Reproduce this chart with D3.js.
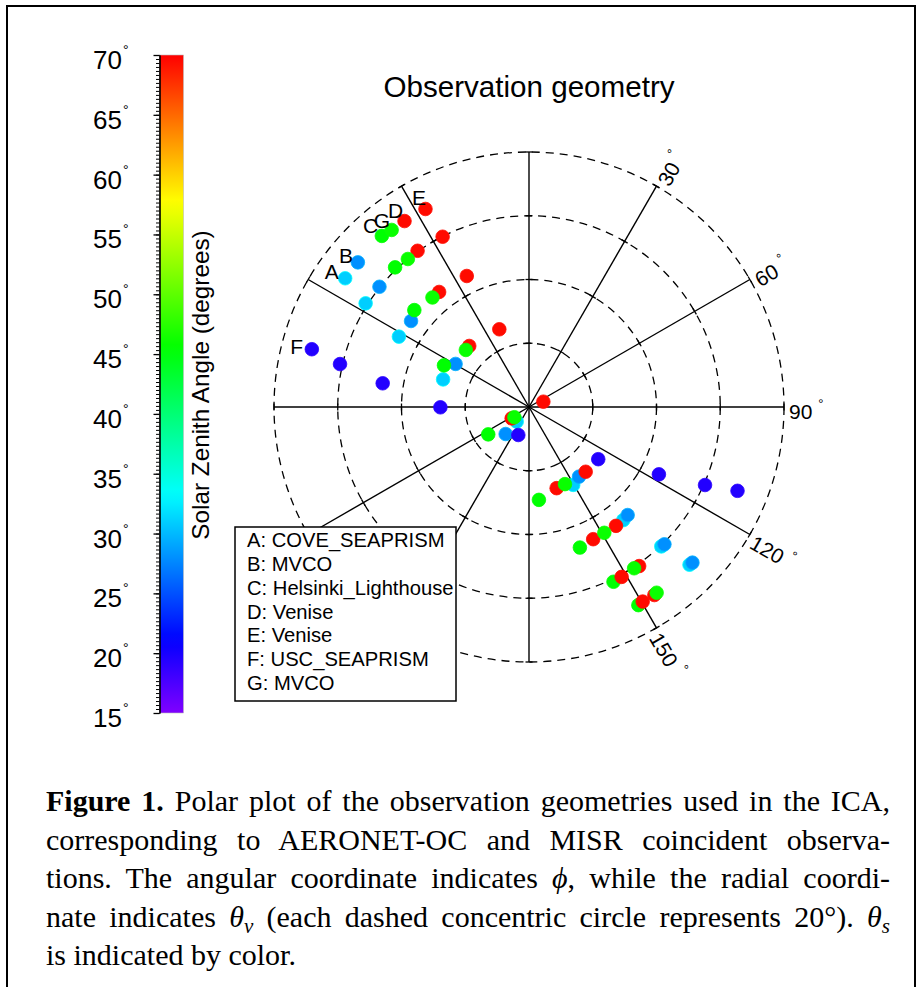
<!DOCTYPE html>
<html>
<head>
<meta charset="utf-8">
<script src="https://cdnjs.cloudflare.com/ajax/libs/d3/7.8.5/d3.min.js"></script>
<style>
  body { margin: 0; background: #fff; }
  svg text { font-family: "Liberation Sans", Arial, Helvetica, sans-serif; fill: #000; }
  .caption text { font-family: "Liberation Serif", "Times New Roman", serif; }
</style>
</head>
<body>
<div id="figure"></div>
<script>
// values, one entry per observation
// site order is also the drawing order (later sites sit on top)
var site = ["A","A","A","A","A","A","A","A","A",
            "B","B","B","B","B","B","B","B","B",
            "C","C","C","C","C","C","C","C","C",
            "D","D","D","D","D","D","D","D","D",
            "E","E","E","E","E","E","E","E","E",
            "F","F","F","F","F","F","F","F","F",
            "G","G","G","G","G","G","G","G","G"];

// view zenith angle theta_v (degrees)
var viewZenith = [70.4, 60.7, 46.4, 28.3, 6.0, 28.1, 46.2, 60.3, 70.6,
                  70.3, 60.2, 45.8, 26.7, 11.2, 26.9, 45.9, 60.5, 70.8,
                  70.8, 60.7, 47.1, 29.7, 15.4, 29.3, 46.9, 60.9, 71.0,
                  70.2, 60.2, 45.8, 26.8, 4.8, 27.0, 46.2, 60.7, 70.9,
                  70.1, 59.9, 45.5, 26.1, 6.5, 26.9, 46.1, 60.7, 70.7,
                  70.5, 60.8, 46.5, 27.8, 9.4, 27.2, 45.9, 60.4, 70.5,
                  70.3, 60.0, 45.8, 26.7, 5.6, 26.7, 46.0, 60.4, 70.7];

// azimuth phi (degrees, clockwise from the top)
var azimuth = [305.0, 302.4, 298.4, 287.8, 220.0, 150.4, 140.2, 136.5, 134.5,
               310.2, 308.8, 306.1, 300.4, 220.8, 144.3, 137.6, 135.4, 133.6,
               319.3, 316.2, 310.2, 296.1, 236.1, 173.9, 160.1, 154.2, 151.1,
               326.2, 324.5, 322.0, 315.6, 69.7, 138.8, 143.8, 145.3, 146.3,
               332.4, 333.1, 334.6, 339.1, 236.8, 161.2, 154.1, 151.4, 149.7,
               284.9, 282.8, 279.2, 269.8, 200.9, 127.0, 117.4, 113.9, 111.9,
               322.2, 320.7, 318.6, 312.1, 235.0, 155.0, 149.1, 146.9, 145.5];

// solar zenith angle theta_s (degrees), shown by colour
var solarZenith = [31, 31, 31, 31, 31, 31, 31, 31, 31,
                   28, 28, 28, 28, 28, 28, 28, 28, 28,
                   45.5, 45.5, 45.5, 45.5, 45.5, 45.5, 45.5, 45.5, 45.5,
                   69.5, 69.5, 69.5, 69.5, 69.5, 69.5, 69.5, 69.5, 69.5,
                   69.5, 69.5, 69.5, 69.5, 69.5, 69.5, 69.5, 69.5, 69.5,
                   19.5, 19.5, 19.5, 19.5, 19.5, 19.5, 19.5, 19.5, 19.5,
                   46, 46, 46, 46, 46, 46, 46, 46, 46];

// site letters written next to the outermost points
var siteLetters = ["A", "B", "C", "D", "E", "F", "G"];
var letterZenith = [75.1, 74.6, 75.7, 74.5, 74.2, 75.3, 74.6];
var letterAzimuth = [304.5, 309.7, 318.95, 325.8, 332.3, 284.5, 321.8];
var siteNames = ["COVE_SEAPRISM", "MVCO", "Helsinki_Lighthouse", "Venise", "Venise", "USC_SEAPRISM", "MVCO"];

var rings = [20, 40, 60, 80];
var spokes = [0, 30, 60, 90, 120, 150, 180, 210, 240, 270, 300, 330];
var spokeLabels = [30, 60, 90, 120, 150];
var colorTicks = [15, 20, 25, 30, 35, 40, 45, 50, 55, 60, 65, 70];

var captionLines = [
  [{t: "Figure 1.", bold: true}, {t: " Polar plot of the observation geometries used in the ICA,"}],
  [{t: "corresponding to AERONET-OC and MISR coincident observa-"}],
  [{t: "tions. The angular coordinate indicates "}, {t: "\u03d5", it: true}, {t: ", while the radial coordi-"}],
  [{t: "nate indicates "}, {t: "\u03b8", it: true}, {t: "v", it: true, sub: true},
   {t: " (each dashed concentric circle represents 20\u00b0). "}, {t: "\u03b8", it: true}, {t: "s", it: true, sub: true}],
  [{t: "is indicated by color."}]
];

window.onload = function(){
  drawFigure();
};

function drawFigure(){
  var width = 923,
      height = 987,
      center = {x: 529, y: 407},
      outerRadius = 255;

  var svg = d3.select("#figure").append("svg")
      .attr("width", width)
      .attr("height", height);

  // frame round the whole figure (open at the bottom edge)
  svg.append("rect")
      .attr("x", 7)
      .attr("y", 6)
      .attr("width", 908)
      .attr("height", 1100)
      .attr("fill", "none")
      .attr("stroke", "#000")
      .attr("stroke-width", 2);

  var color = d3.scaleLinear()
      .domain([15, 70])
      .range([270, 0]);

  function szaColor(v){
    return d3.hsl(color(v), 1, 0.5) + "";
  }

  // ---- colour bar ----
  var cb = {x: 159.5, width: 24, top: 55, bottom: 713};

  var cbScale = d3.scaleLinear()
      .domain([15, 70])
      .range([cb.bottom, cb.top]);

  var grad = svg.append("defs").append("linearGradient")
      .attr("id", "szaGradient")
      .attr("x1", 0).attr("y1", 1)
      .attr("x2", 0).attr("y2", 0);

  grad.selectAll("stop")
      .data(d3.range(0, 1.0001, 0.02))
    .enter().append("stop")
      .attr("offset", function(d){ return d; })
      .attr("stop-color", function(d){ return szaColor(15 + d * 55); });

  svg.append("rect")
      .attr("x", cb.x)
      .attr("y", cb.top)
      .attr("width", cb.width)
      .attr("height", cb.bottom - cb.top)
      .attr("fill", "url(#szaGradient)")
      .attr("stroke", "#bbb")
      .attr("stroke-width", 0.6);

  var minorAxis = d3.axisLeft(cbScale)
      .tickValues(d3.range(15, 70.001, 1 / 3))
      .tickSize(3.5)
      .tickSizeOuter(0)
      .tickFormat("");

  var majorAxis = d3.axisLeft(cbScale)
      .tickValues(colorTicks)
      .tickSize(6)
      .tickSizeOuter(0)
      .tickFormat("");

  svg.append("g")
      .attr("transform", "translate(" + cb.x + ",0)")
      .call(minorAxis)
      .call(function(g){ g.selectAll("line, path").attr("stroke", "#000").attr("stroke-width", 1); });

  svg.append("g")
      .attr("transform", "translate(" + cb.x + ",0)")
      .call(majorAxis)
      .call(function(g){ g.selectAll("line, path").attr("stroke", "#000").attr("stroke-width", 1.3); });

  var cbLabels = svg.append("g").selectAll("g")
      .data(colorTicks)
    .enter().append("g")
      .attr("transform", function(d){ return "translate(0," + cbScale(d) + ")"; });

  cbLabels.append("text")
      .attr("x", 122)
      .attr("y", 14)
      .attr("text-anchor", "end")
      .attr("font-size", 26)
      .text(function(d){ return d; });

  cbLabels.append("text")
      .attr("x", 123)
      .attr("y", 0)
      .attr("font-size", 14)
      .text("\u00b0");

  svg.append("text")
      .attr("transform", "translate(209,385) rotate(-90)")
      .attr("text-anchor", "middle")
      .attr("font-size", 24.3)
      .text("Solar Zenith Angle (degrees)");

  // ---- polar plot ----
  svg.append("text")
      .attr("x", center.x)
      .attr("y", 97)
      .attr("text-anchor", "middle")
      .attr("font-size", 29.6)
      .text("Observation geometry");

  var r = d3.scaleLinear()
      .domain([0, 80])
      .range([0, outerRadius]);

  function project(zenith, phi){
    var a = phi * Math.PI / 180;
    return [center.x + r(zenith) * Math.sin(a), center.y - r(zenith) * Math.cos(a)];
  }

  var g = svg.append("g")
      .attr("transform", "translate(" + center.x + "," + center.y + ")");

  g.selectAll(".ring")
      .data(rings)
    .enter().append("circle")
      .attr("class", "ring")
      .attr("r", function(d){ return r(d); })
      .attr("fill", "none")
      .attr("stroke", "#000")
      .attr("stroke-width", 1.3)
      .attr("stroke-dasharray", "8,6");

  var spoke = g.selectAll(".spoke")
      .data(spokes)
    .enter().append("g")
      .attr("class", "spoke")
      .attr("transform", function(d){ return "rotate(" + (d - 90) + ")"; });

  spoke.append("line")
      .attr("x2", r(80))
      .attr("stroke", "#000")
      .attr("stroke-width", 1.4);

  spoke.selectAll(".tick")
      .data(rings)
    .enter().append("line")
      .attr("class", "tick")
      .attr("x1", function(d){ return r(d); })
      .attr("x2", function(d){ return r(d); })
      .attr("y1", -3.5)
      .attr("y2", 3.5)
      .attr("stroke", "#000")
      .attr("stroke-width", 1.3);

  var spokeText = g.selectAll(".spoke-label")
      .data(spokeLabels)
    .enter().append("text")
      .attr("class", "spoke-label")
      .attr("transform", function(d){ return "rotate(" + (d - 90) + ") translate(" + (r(80) + 5) + ",4)"; })
      .attr("dominant-baseline", "central")
      .attr("font-size", 21);

  spokeText.append("tspan")
      .text(function(d){ return d; });

  spokeText.append("tspan")
      .attr("dx", 6)
      .attr("dy", -8)
      .attr("font-size", 13)
      .text("\u00b0");

  // observations, coloured by solar zenith angle
  var points = d3.range(viewZenith.length);

  svg.append("g").selectAll("circle")
      .data(points)
    .enter().append("circle")
      .attr("cx", function(i){ return project(viewZenith[i], azimuth[i])[0]; })
      .attr("cy", function(i){ return project(viewZenith[i], azimuth[i])[1]; })
      .attr("r", 6.8)
      .attr("fill", function(i){ return szaColor(solarZenith[i]); })
      .attr("stroke", function(i){ return d3.color(szaColor(solarZenith[i])).brighter(0.6); })
      .attr("stroke-width", 0.8);

  svg.append("g").selectAll("text")
      .data(siteLetters)
    .enter().append("text")
      .attr("x", function(d, i){ return project(letterZenith[i], letterAzimuth[i])[0]; })
      .attr("y", function(d, i){ return project(letterZenith[i], letterAzimuth[i])[1]; })
      .attr("text-anchor", "middle")
      .attr("dominant-baseline", "central")
      .attr("font-size", 21)
      .text(function(d){ return d; });

  // ---- legend ----
  var legend = svg.append("g")
      .attr("transform", "translate(235,527)");

  legend.append("rect")
      .attr("width", 221)
      .attr("height", 174)
      .attr("fill", "#fff")
      .attr("stroke", "#000")
      .attr("stroke-width", 1.5);

  legend.selectAll("text")
      .data(siteLetters)
    .enter().append("text")
      .attr("x", 12)
      .attr("y", function(d, i){ return 20 + i * 23.85; })
      .attr("font-size", 20.2)
      .text(function(d, i){ return d + ": " + siteNames[i]; });

  // ---- caption ----
  var caption = svg.append("g")
      .attr("class", "caption");

  var capLeft = 46, capRight = 890;

  captionLines.forEach(function(parts, li){
    var text = caption.append("text")
        .attr("x", capLeft)
        .attr("y", 811 + li * 38.5)
        .attr("font-size", 30);

    var shift = 0;
    parts.forEach(function(p){
      var ts = text.append("tspan").text(p.t);
      if (p.bold) ts.attr("font-weight", "bold");
      if (p.it) ts.attr("font-style", "italic");
      if (p.sub) {
        ts.attr("font-size", 21).attr("dy", 6);
        shift = -6;
      } else if (shift) {
        ts.attr("dy", shift);
        shift = 0;
      }
    });

    // justify every line but the last one
    if (li < captionLines.length - 1) {
      var natural = text.node().getComputedTextLength();
      var gaps = text.text().split(" ").length - 1;
      text.attr("word-spacing", (capRight - capLeft - natural) / gaps);
    }
  });
}
</script>
</body>
</html>
